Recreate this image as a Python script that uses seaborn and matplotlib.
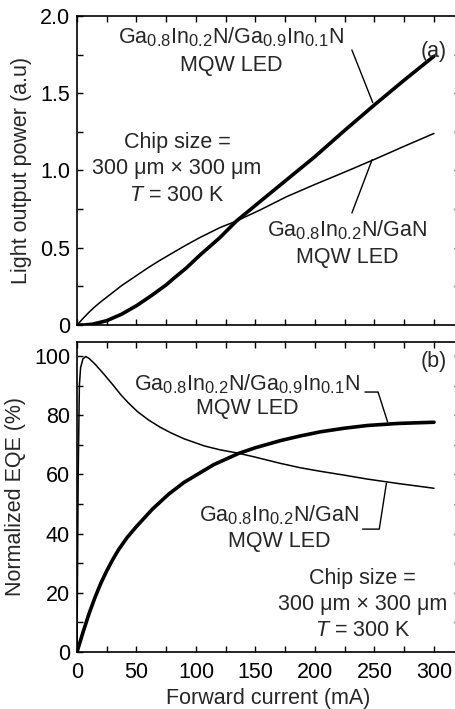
import matplotlib
matplotlib.use("Agg")
import matplotlib.pyplot as plt
import matplotlib._mathtext as mathtext_impl
import seaborn as sns
import pandas as pd

# Light output power (a.u.) vs forward current (mA)
cur_p_thick = [0, 6, 13, 25, 37.5, 50, 62.5, 75, 81, 92, 103, 120, 134, 154, 173, 200, 225, 250, 275, 300]
pow_thick = [0, 0.0, 0.005, 0.028, 0.07, 0.125, 0.19, 0.26, 0.30, 0.37, 0.45, 0.565, 0.673, 0.80, 0.92, 1.09, 1.26, 1.425, 1.585, 1.74]
cur_p_thin = [0, 5, 10, 15, 20, 25, 37.5, 50, 60, 70, 80, 90, 103, 120, 134, 154, 176, 200, 225, 250, 275, 300]
pow_thin = [0, 0.042, 0.082, 0.118, 0.150, 0.18, 0.255, 0.32, 0.372, 0.42, 0.465, 0.51, 0.565, 0.63, 0.673, 0.745, 0.83, 0.91, 0.99, 1.072, 1.157, 1.24]

# Normalized EQE (%) vs forward current (mA)
cur_e_thick = [0, 5, 10, 15, 20, 25, 30, 35, 42, 50, 63.5, 77, 90, 115, 136, 150, 171, 188, 205, 225, 244, 270, 300]
eqe_thick = [0, 6.6, 12.8, 18.3, 23.2, 27.4, 31.2, 34.6, 38.6, 42.4, 48.3, 53.3, 57.3, 63.3, 67.1, 69.0, 71.4, 73.0, 74.4, 75.6, 76.5, 77.2, 77.6]
cur_e_thin = [0, 1, 2, 3, 5, 7.3, 10, 15, 22.7, 30, 36.8, 43, 50.8, 60, 70, 79, 90, 107, 120, 136, 150, 171, 188, 205, 225, 244, 270, 300]
eqe_thin = [0, 60, 90, 96, 99, 99.8, 99.2, 97.3, 93.8, 90.3, 86.9, 84.2, 81.2, 78.4, 75.9, 74.0, 72.0, 69.6, 68.3, 67.1, 65.8, 63.7, 62.2, 61.0, 59.7, 58.4, 56.9, 55.3]

x_ticks = [0, 50, 100, 150, 200, 250, 300]
p_ticks = [0, 0.5, 1.0, 1.5, 2.0]
p_tick_labels = ["0", "0.5", "1.0", "1.5", "2.0"]
e_ticks = [0, 20, 40, 60, 80, 100]

label_gainn = r"Ga$_{0.8}$In$_{0.2}$N/Ga$_{0.9}$In$_{0.1}$N" + "\nMQW LED"
label_gan = r"Ga$_{0.8}$In$_{0.2}$N/GaN" + "\nMQW LED"
label_chip = "Chip size =\n300 μm × 300 μm\n$T$ = 300 K"

sns.set_style("ticks")
plt.rcParams["font.family"] = ["Liberation Sans", "DejaVu Sans"]
plt.rcParams["mathtext.fontset"] = "custom"
plt.rcParams["mathtext.rm"] = "Liberation Sans"
plt.rcParams["mathtext.it"] = "Liberation Sans:italic"
plt.rcParams["mathtext.bf"] = "Liberation Sans:bold"
# slightly larger subscripts for the composition indices
mathtext_impl.SHRINK_FACTOR = 0.77

FS = 15.5
fig = plt.figure(figsize=(4.56, 7.09), dpi=100)
W, H = 456, 709
x_max = 322
ax_w = x_max * (357 / 300) / W
ax1 = fig.add_axes([77 / W, 1 - 325 / H, ax_w, (325 - 16) / H])
ax2 = fig.add_axes([77 / W, 1 - 652 / H, ax_w, (652 - 342) / H])

df_p1 = pd.DataFrame({"I": cur_p_thick, "P": pow_thick})
df_p2 = pd.DataFrame({"I": cur_p_thin, "P": pow_thin})
df_e1 = pd.DataFrame({"I": cur_e_thick, "E": eqe_thick})
df_e2 = pd.DataFrame({"I": cur_e_thin, "E": eqe_thin})

sns.lineplot(data=df_p1, x="I", y="P", ax=ax1, color="black", lw=2.6)
sns.lineplot(data=df_p2, x="I", y="P", ax=ax1, color="black", lw=1.1)
sns.lineplot(data=df_e1, x="I", y="E", ax=ax2, color="black", lw=2.6)
sns.lineplot(data=df_e2, x="I", y="E", ax=ax2, color="black", lw=1.1)

for ax in (ax1, ax2):
    ax.set_xlim(0, x_max)
    ax.set_xticks(x_ticks)
    ax.set_xticks(range(0, 325, 25), minor=True)
    ax.tick_params(which="both", direction="in", top=True, right=True,
                   length=4.5, width=1.0, labelsize=FS, pad=5, colors="black")
    for s in ax.spines.values():
        s.set_linewidth(1.2)
        s.set_color("black")

ax1.set_ylim(0, 2.0)
ax1.set_yticks(p_ticks)
ax1.set_yticklabels(p_tick_labels)
ax1.set_yticks([i * 0.25 for i in range(9)], minor=True)
ax1.tick_params(labelbottom=False)
ax1.set_xlabel("")
ax1.set_ylabel("Light output power (a.u)", fontsize=FS, labelpad=6)

ax2.set_ylim(0, 104.7)
ax2.set_yticks(e_ticks)
ax2.set_yticks(range(0, 101, 10), minor=True)
ax2.tick_params(axis="x", which="major", pad=7)
ax2.set_xlabel("Forward current (mA)", fontsize=FS, labelpad=4)
ax2.set_ylabel("Normalized EQE (%)", fontsize=FS, labelpad=6)

# panel (a) annotations
ax1.text(129.5, 1.777, label_gainn, ha="center", va="center", fontsize=FS, linespacing=1.4)
ax1.plot([231, 248.5], [1.78, 1.44], color="black", lw=1.0)
ax1.text(311, 1.77, "(a)", ha="right", va="center", fontsize=FS)
ax1.text(84, 1.01, label_chip, ha="center", va="center", fontsize=FS, linespacing=1.35)
ax1.text(227, 0.527, label_gan, ha="center", va="center", fontsize=FS, linespacing=1.3)
ax1.plot([231, 248], [0.725, 1.07], color="black", lw=1.0)

# panel (b) annotations
ax2.text(143, 86.5, label_gainn, ha="center", va="center", fontsize=FS, linespacing=1.15)
ax2.plot([242, 253, 261], [87.8, 87.8, 77.7], color="black", lw=1.0)
ax2.text(310.5, 98, "(b)", ha="right", va="center", fontsize=FS)
ax2.text(170, 42.1, label_gan, ha="center", va="center", fontsize=FS, linespacing=1.25)
ax2.plot([240, 254, 260], [41.5, 41.5, 57], color="black", lw=1.0)
ax2.text(240, 16.0, label_chip, ha="center", va="center", fontsize=FS, linespacing=1.3)

fig.savefig("out.png", dpi=100)
